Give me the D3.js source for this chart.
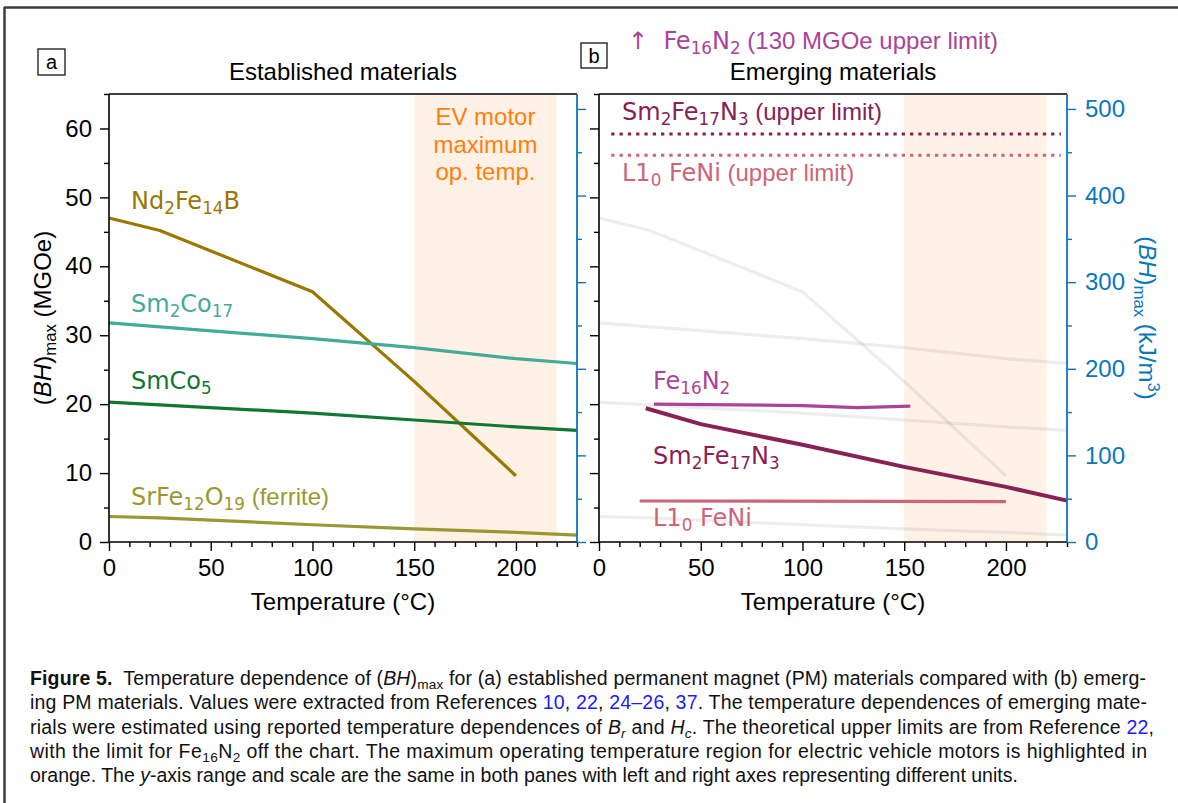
<!DOCTYPE html>
<html>
<head>
<meta charset="utf-8">
<script src="https://cdn.jsdelivr.net/npm/d3@7"></script>
<style>
  html, body { margin: 0; padding: 0; background: #fff; }
  svg text { white-space: pre; }
</style>
</head>
<body>
<svg id="chart" width="1178" height="803"></svg>
<script>
// ---------------- DATA ----------------
// Panel a: established materials (MGOe vs °C)
const ndTemps   = [0, 25, 100, 150, 200];
const ndValues  = [47.0, 45.2, 36.3, 23.3, 9.6];          // Nd2Fe14B
const sm2co17Temps  = [0, 100, 150, 200, 230];
const sm2co17Values = [31.8, 29.5, 28.2, 26.6, 25.9];     // Sm2Co17
const smco5Temps  = [0, 100, 150, 200, 230];
const smco5Values = [20.3, 18.7, 17.7, 16.7, 16.2];       // SmCo5
const ferriteTemps  = [0, 25, 100, 150, 200, 230];
const ferriteValues = [3.7, 3.5, 2.5, 1.9, 1.4, 1.0];     // SrFe12O19

// Panel b: emerging materials
const fe16n2Temps  = [27, 100, 127, 153];
const fe16n2Values = [20.0, 19.8, 19.5, 19.7];            // Fe16N2
const smfenTemps  = [23, 50, 100, 150, 200, 230];
const smfenValues = [19.4, 17.1, 14.1, 10.9, 8.0, 6.0];   // Sm2Fe17N3
const feniTemps  = [20, 200];
const feniValues = [5.95, 5.85];                          // L1_0 FeNi
const upperLimitNames  = ["Sm2Fe17N3", "L10 FeNi"];
const upperLimitValues = [59.2, 56.1];                    // MGOe
const upperLimitSpan   = [6, 227];                        // °C extent of dotted lines

const evRegion = [150, 220];                              // °C
const xDomain = [0, 230];
const yDomain = [0, 65];                                  // MGOe
const MGOE_TO_KJ = 7.9577;                                // kJ/m^3 per MGOe
const xMajorTicks = [0, 50, 100, 150, 200];
const yMajorTicks = [0, 10, 20, 30, 40, 50, 60];
const yRightTicks = [0, 100, 200, 300, 400, 500];

// ---------------- STYLE ----------------
const C = {
  nd: "#997700", sm2co17: "#44AA99", smco5: "#117733", ferrite: "#999933",
  fe16n2: "#AA4499", smfen: "#882255", feni: "#CC6677",
  blue: "#0A77BA", orange: "#ff7f0e", link: "#1a1aff"
};
const SANS = "'Liberation Sans', Arial, Helvetica, sans-serif";
const MATH = "'DejaVu Sans', sans-serif";
const FS = 24;
const LFS = 24;

const svg = d3.select("#chart");
const W = 468, H = 448, TOP = 94;
const panelA = {x: 109}, panelB = {x: 599};

const x = d3.scaleLinear().domain(xDomain).range([0, W]);
const y = d3.scaleLinear().domain(yDomain).range([H, 0]);
const yk = d3.scaleLinear().domain([yDomain[0] * MGOE_TO_KJ, yDomain[1] * MGOE_TO_KJ]).range([H, 0]);

// rich text helper: parts = [{t, sub, it, b, c, f}]
function rich(sel, parts, size) {
  let shifted = false;
  const sh = size * 0.22;
  parts.forEach(p => {
    const ts = sel.append("tspan").text(p.t);
    if (p.f) ts.attr("font-family", p.f);
    if (p.it) ts.attr("font-style", "italic");
    if (p.b) ts.attr("font-weight", "bold");
    if (p.c) ts.attr("fill", p.c);
    if (p.sub) {
      ts.attr("font-size", size * 0.7);
      if (!shifted) { ts.attr("dy", sh); shifted = true; }
    } else if (shifted) {
      ts.attr("dy", -sh); shifted = false;
    }
  });
  return sel;
}
function label(g, px, py, parts, color, size = FS, font = SANS) {
  const t = g.append("text").attr("x", px).attr("y", py)
    .attr("font-family", font).attr("font-size", size).attr("fill", color);
  rich(t, parts, size);
  return t;
}

// ---------------- FRAME ----------------
svg.append("line").attr("x1", 4).attr("x2", 1178).attr("y1", 7.5).attr("y2", 7.5)
  .attr("stroke", "#3c3c3c").attr("stroke-width", 2.5);
svg.append("line").attr("x1", 4.5).attr("x2", 4.5).attr("y1", 7).attr("y2", 803)
  .attr("stroke", "#3c3c3c").attr("stroke-width", 2.5);

const line = d3.line().x(d => x(d[0])).y(d => y(d[1]));
const zip = (a, b) => a.map((v, i) => [v, b[i]]);

const established = [
  {temps: ndTemps, vals: ndValues, color: C.nd},
  {temps: sm2co17Temps, vals: sm2co17Values, color: C.sm2co17},
  {temps: smco5Temps, vals: smco5Values, color: C.smco5},
  {temps: ferriteTemps, vals: ferriteValues, color: C.ferrite}
];

function drawPanel(px) {
  const g = svg.append("g").attr("transform", `translate(${px},${TOP})`);
  g.append("rect").attr("x", x(evRegion[0])).attr("y", 0)
    .attr("width", x(evRegion[1]) - x(evRegion[0])).attr("height", H)
    .attr("fill", C.orange).attr("fill-opacity", 0.11);
  return g;
}

function drawAxes(g, opts) {
  const xa = g.append("g").attr("transform", `translate(0,${H})`)
    .call(d3.axisBottom(x).tickValues(xMajorTicks).tickSize(9).tickPadding(8).tickFormat(d3.format("d")));
  const xm = g.append("g").attr("transform", `translate(0,${H})`)
    .call(d3.axisBottom(x).tickValues(d3.range(0, 231, 10).filter(v => v % 50 !== 0)).tickSize(5).tickFormat(""));
  const ya = g.append("g")
    .call(d3.axisLeft(y).tickValues(yMajorTicks).tickSize(9).tickPadding(8)
      .tickFormat(opts.leftLabels ? d3.format("d") : ""));
  const ym = g.append("g")
    .call(d3.axisLeft(y).tickValues(d3.range(5, 66, 10)).tickSize(5).tickFormat(""));
  const yr = g.append("g").attr("transform", `translate(${W},0)`)
    .call(d3.axisRight(yk).tickValues(yRightTicks).tickSize(9).tickPadding(9)
      .tickFormat(opts.rightLabels ? d3.format("d") : ""));
  const yrm = g.append("g").attr("transform", `translate(${W},0)`)
    .call(d3.axisRight(yk).tickValues(d3.range(50, 501, 100)).tickSize(5).tickFormat(""));
  [xa, xm, ya, ym, yr, yrm].forEach(a => {
    a.select(".domain").remove();
    a.selectAll("line").attr("stroke-width", 1.4);
    a.selectAll("text").attr("font-family", SANS).attr("font-size", FS).attr("fill", "#000");
  });
  xa.selectAll("text").attr("dy", "0.72em");
  [yr, yrm].forEach(a => {
    a.selectAll("line").attr("stroke", C.blue);
    a.selectAll("text").attr("fill", C.blue);
  });
  g.append("line").attr("x1", 0).attr("x2", W).attr("y1", 0).attr("y2", 0).attr("stroke", "#000").attr("stroke-width", 1.6);
  g.append("line").attr("x1", 0).attr("x2", W).attr("y1", H).attr("y2", H).attr("stroke", "#000").attr("stroke-width", 1.6);
  g.append("line").attr("x1", 0).attr("x2", 0).attr("y1", 0).attr("y2", H).attr("stroke", "#000").attr("stroke-width", 1.6);
  g.append("line").attr("x1", W).attr("x2", W).attr("y1", 0).attr("y2", H).attr("stroke", C.blue).attr("stroke-width", 1.8);
  g.append("text").attr("x", W / 2).attr("y", 516).attr("text-anchor", "middle")
    .attr("font-family", SANS).attr("font-size", FS).text("Temperature (°C)");
}

// ---------------- PANEL A ----------------
const gA = drawPanel(panelA.x);
established.forEach(s => {
  gA.append("path").attr("d", line(zip(s.temps, s.vals))).attr("fill", "none")
    .attr("stroke", s.color).attr("stroke-width", 3.2).attr("stroke-linejoin", "round");
});
drawAxes(gA, {leftLabels: true, rightLabels: false});

["EV motor", "maximum", "op. temp."].forEach((t, i) => {
  gA.append("text").attr("x", (x(evRegion[0]) + x(evRegion[1])) / 2).attr("y", 31 + i * 27.5)
    .attr("text-anchor", "middle").attr("font-family", SANS).attr("font-size", FS)
    .attr("fill", C.orange).text(t);
});
label(gA, 22, 115, [{t: "Nd"}, {t: "2", sub: 1}, {t: "Fe"}, {t: "14", sub: 1}, {t: "B"}], C.nd, LFS, MATH);
label(gA, 22, 218, [{t: "Sm"}, {t: "2", sub: 1}, {t: "Co"}, {t: "17", sub: 1}], C.sm2co17, LFS, MATH);
label(gA, 22, 295, [{t: "SmCo"}, {t: "5", sub: 1}], C.smco5, LFS, MATH);
label(gA, 22, 411, [{t: "SrFe", f: MATH}, {t: "12", sub: 1, f: MATH}, {t: "O", f: MATH}, {t: "19", sub: 1, f: MATH}, {t: " (ferrite)"}], C.ferrite, LFS, SANS);

// ---------------- PANEL B ----------------
const gB = drawPanel(panelB.x);
established.forEach(s => {
  gB.append("path").attr("d", line(zip(s.temps, s.vals))).attr("fill", "none")
    .attr("stroke", "#000").attr("stroke-opacity", 0.07).attr("stroke-width", 3.2);
});
gB.append("path").attr("d", line(zip(feniTemps, feniValues))).attr("fill", "none")
  .attr("stroke", C.feni).attr("stroke-width", 3.2);
gB.append("path").attr("d", line(zip(smfenTemps, smfenValues))).attr("fill", "none")
  .attr("stroke", C.smfen).attr("stroke-width", 4).attr("stroke-linejoin", "round");
gB.append("path").attr("d", line(zip(fe16n2Temps, fe16n2Values))).attr("fill", "none")
  .attr("stroke", C.fe16n2).attr("stroke-width", 3.2);
const limitColors = [C.smfen, C.feni];
upperLimitValues.forEach((v, i) => {
  gB.append("line").attr("x1", x(upperLimitSpan[0])).attr("x2", x(upperLimitSpan[1]))
    .attr("y1", y(v)).attr("y2", y(v)).attr("stroke", limitColors[i])
    .attr("stroke-width", 3).attr("stroke-dasharray", "3.3,5");
});
drawAxes(gB, {leftLabels: false, rightLabels: true});

label(gB, 23, 26, [{t: "Sm", f: MATH}, {t: "2", sub: 1, f: MATH}, {t: "Fe", f: MATH}, {t: "17", sub: 1, f: MATH}, {t: "N", f: MATH}, {t: "3", sub: 1, f: MATH}, {t: " (upper limit)"}], C.smfen, LFS, SANS);
label(gB, 23, 87, [{t: "L1", f: MATH}, {t: "0", sub: 1, f: MATH}, {t: " FeNi", f: MATH}, {t: " (upper limit)"}], C.feni, LFS, SANS);
label(gB, 54, 295, [{t: "Fe"}, {t: "16", sub: 1}, {t: "N"}, {t: "2", sub: 1}], C.fe16n2, LFS, MATH);
label(gB, 54, 370, [{t: "Sm"}, {t: "2", sub: 1}, {t: "Fe"}, {t: "17", sub: 1}, {t: "N"}, {t: "3", sub: 1}], C.smfen, LFS, MATH);
label(gB, 54, 432, [{t: "L1"}, {t: "0", sub: 1}, {t: " FeNi"}], C.feni, LFS, MATH);

// ---------------- TITLES & AXIS LABELS ----------------
svg.append("text").attr("x", panelA.x + W / 2).attr("y", 80).attr("text-anchor", "middle")
  .attr("font-family", SANS).attr("font-size", FS).text("Established materials");
svg.append("text").attr("x", panelB.x + W / 2).attr("y", 80).attr("text-anchor", "middle")
  .attr("font-family", SANS).attr("font-size", FS).text("Emerging materials");

[[38, 49, 27, 26, "a"], [581, 43, 26, 25, "b"]].forEach(([bx, by, bw, bh, l]) => {
  svg.append("rect").attr("x", bx).attr("y", by).attr("width", bw).attr("height", bh)
    .attr("fill", "none").attr("stroke", "#000").attr("stroke-width", 1.2);
  svg.append("text").attr("x", bx + bw / 2).attr("y", by + bh / 2 + 7).attr("text-anchor", "middle")
    .attr("font-family", SANS).attr("font-size", 20).text(l);
});

label(svg, 628, 49, [{t: "↑  ", f: MATH}, {t: "Fe", f: MATH}, {t: "16", sub: 1, f: MATH}, {t: "N", f: MATH}, {t: "2", sub: 1, f: MATH}, {t: " (130 MGOe upper limit)"}], C.fe16n2, 24, SANS);

const yl = svg.append("text").attr("transform", `translate(51,${TOP + H / 2}) rotate(-90)`)
  .attr("text-anchor", "middle").attr("font-family", SANS).attr("font-size", FS).attr("fill", "#000");
rich(yl, [{t: "("}, {t: "BH", it: 1}, {t: ")"}, {t: "max", sub: 1}, {t: " (MGOe)"}], FS);
const yr2 = svg.append("text").attr("transform", `translate(1139,${TOP + H / 2}) rotate(90)`)
  .attr("text-anchor", "middle").attr("font-family", SANS).attr("font-size", FS).attr("fill", C.blue);
(function () {
  const sh = FS * 0.22;
  yr2.append("tspan").text("(");
  yr2.append("tspan").attr("font-style", "italic").text("BH");
  yr2.append("tspan").text(")");
  yr2.append("tspan").attr("font-size", FS * 0.7).attr("dy", sh).text("max");
  yr2.append("tspan").attr("dy", -sh).text(" (kJ/m");
  yr2.append("tspan").attr("font-size", FS * 0.7).attr("dy", -FS * 0.38).text("3");
  yr2.append("tspan").attr("dy", FS * 0.38).text(")");
})();

// ---------------- CAPTION ----------------
const capLines = [
  {y: 685, len: 1116, parts: [{t: "Figure 5.", b: 1}, {t: "  Temperature dependence of ("}, {t: "BH", it: 1}, {t: ")"}, {t: "max", sub: 1}, {t: " for (a) established permanent magnet (PM) materials compared with (b) emerg-"}]},
  {y: 709, len: 1117, parts: [{t: "ing PM materials. Values were extracted from References "}, {t: "10", c: C.link}, {t: ", "}, {t: "22", c: C.link}, {t: ", "}, {t: "24–26", c: C.link}, {t: ", "}, {t: "37", c: C.link}, {t: ". The temperature dependences of emerging mate-"}]},
  {y: 734, len: 1124, parts: [{t: "rials were estimated using reported temperature dependences of "}, {t: "B", it: 1}, {t: "r", it: 1, sub: 1}, {t: " and "}, {t: "H", it: 1}, {t: "c", it: 1, sub: 1}, {t: ". The theoretical upper limits are from Reference "}, {t: "22", c: C.link}, {t: ","}]},
  {y: 758, len: 1117, parts: [{t: "with the limit for Fe"}, {t: "16", sub: 1}, {t: "N"}, {t: "2", sub: 1}, {t: " off the chart. The maximum operating temperature region for electric vehicle motors is highlighted in"}]},
  {y: 782, len: null, parts: [{t: "orange. The "}, {t: "y", it: 1}, {t: "-axis range and scale are the same in both panes with left and right axes representing different units."}]}
];
const CFS = 19.5;
capLines.forEach(l => {
  const t = svg.append("text").attr("x", 30).attr("y", l.y).attr("font-family", SANS)
    .attr("font-size", CFS).attr("fill", "#111");
  rich(t, l.parts, CFS);
  if (l.len) t.attr("textLength", l.len).attr("lengthAdjust", "spacing");
});
</script>
</body>
</html>
